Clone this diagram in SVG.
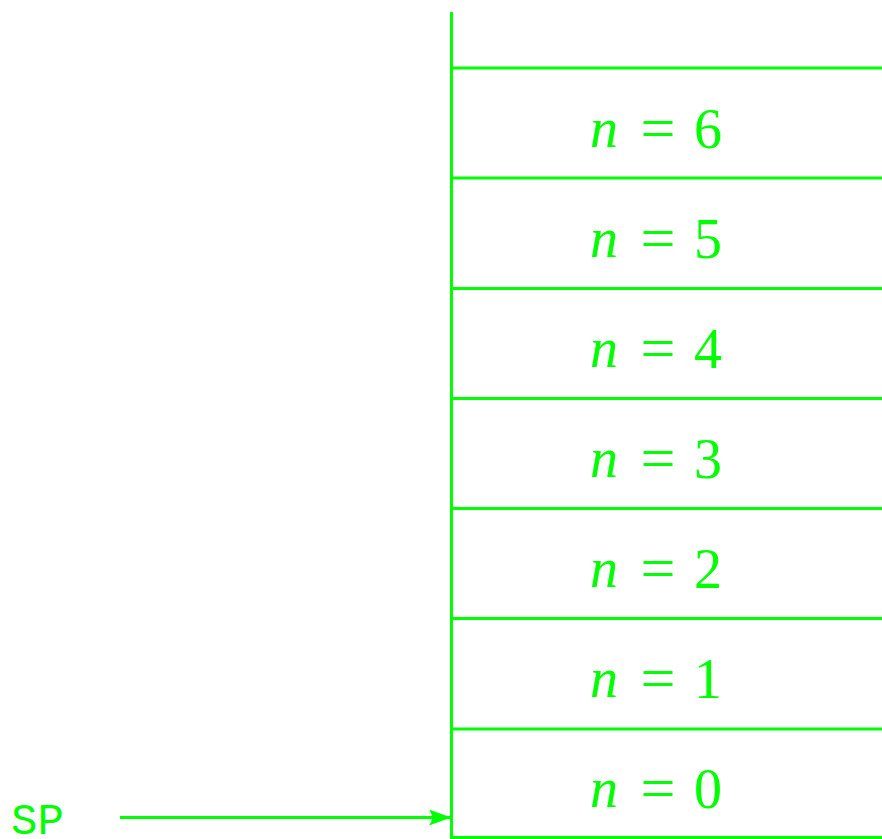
<svg xmlns="http://www.w3.org/2000/svg" width="882" height="839" viewBox="0 0 882 839">
<style>
.ln{stroke:#00ff00;stroke-width:3;fill:none}
.lbl{font-family:"Liberation Serif",serif;font-size:56px;fill:#00ff00}
.it{font-style:italic}
.eq{font-size:62px}
.sp{font-family:"Liberation Mono",monospace;font-size:44px;fill:#00ff00}
</style>
<defs>
<marker id="ah" markerWidth="22" markerHeight="16" refX="22" refY="8" orient="auto" markerUnits="userSpaceOnUse">
<path d="M0,0 L22,8 L0,16 Q6,8 0,0 Z" fill="#00ff00"/>
</marker>
</defs>
<g id="stack">
<line class="ln" x1="451.5" y1="12" x2="451.5" y2="839"/>
</g>
<g id="cells">
<line class="ln" x1="451" y1="68" x2="882" y2="68"/>
<line class="ln" x1="451" y1="178" x2="882" y2="178"/>
<line class="ln" x1="451" y1="288.5" x2="882" y2="288.5"/>
<line class="ln" x1="451" y1="398.5" x2="882" y2="398.5"/>
<line class="ln" x1="451" y1="508.5" x2="882" y2="508.5"/>
<line class="ln" x1="451" y1="618.5" x2="882" y2="618.5"/>
<line class="ln" x1="451" y1="729" x2="882" y2="729"/>
<line class="ln" x1="451" y1="837.5" x2="882" y2="837.5"/>
</g>
<g id="n6" class="lbl"><text x="590" y="147" class="it">n</text><text x="658" y="149" class="eq" text-anchor="middle">=</text><text x="708" y="148" text-anchor="middle">6</text></g>
<g id="n5" class="lbl"><text x="590" y="257" class="it">n</text><text x="658" y="259" class="eq" text-anchor="middle">=</text><text x="708" y="258" text-anchor="middle">5</text></g>
<g id="n4" class="lbl"><text x="590" y="367" class="it">n</text><text x="658" y="369" class="eq" text-anchor="middle">=</text><text x="708" y="368" text-anchor="middle">4</text></g>
<g id="n3" class="lbl"><text x="590" y="477" class="it">n</text><text x="658" y="479" class="eq" text-anchor="middle">=</text><text x="708" y="478" text-anchor="middle">3</text></g>
<g id="n2" class="lbl"><text x="590" y="587" class="it">n</text><text x="658" y="589" class="eq" text-anchor="middle">=</text><text x="708" y="588" text-anchor="middle">2</text></g>
<g id="n1" class="lbl"><text x="590" y="697" class="it">n</text><text x="658" y="699" class="eq" text-anchor="middle">=</text><text x="708" y="698" text-anchor="middle">1</text></g>
<g id="n0" class="lbl"><text x="590" y="807" class="it">n</text><text x="658" y="809" class="eq" text-anchor="middle">=</text><text x="708" y="808" text-anchor="middle">0</text></g>
<g id="sp"><text class="sp" x="11" y="834">SP</text></g>
<g id="connectors">
<line class="ln" x1="120" y1="817.5" x2="451" y2="817.5" marker-end="url(#ah)"/>
</g>
</svg>
